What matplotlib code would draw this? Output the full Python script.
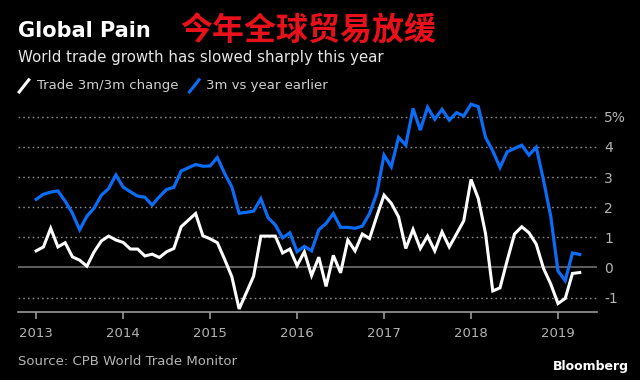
import matplotlib
matplotlib.use("Agg")
import matplotlib.pyplot as plt
from matplotlib.lines import Line2D
import numpy as np

# --- Data (monthly, Jan 2013 - Apr 2019) ---
start_year = 2013
trade_3m3m = [0.55, 0.68, 1.30, 0.68, 0.82, 0.35, 0.24, 0.04, 0.52, 0.88, 1.04, 0.91,
              0.83, 0.61, 0.61, 0.38, 0.44, 0.33, 0.52, 0.63, 1.35, 1.57, 1.79, 1.05,
              0.95, 0.82, 0.27, -0.31, -1.38, -0.84, -0.29, 1.04, 1.04, 1.04, 0.48, 0.61,
              0.06, 0.52, -0.27, 0.34, -0.63, 0.40, -0.18, 0.91, 0.55, 1.11, 0.96, 1.70,
              2.40, 2.13, 1.68, 0.63, 1.26, 0.63, 1.04, 0.55, 1.18, 0.68, 1.11, 1.55,
              2.92, 2.29, 1.13, -0.78, -0.68, 0.24, 1.11, 1.35, 1.15, 0.77, -0.03, -0.55,
              -1.20, -1.03, -0.20, -0.17]
yoy_3m = [2.26, 2.43, 2.50, 2.54, 2.20, 1.80, 1.25, 1.70, 1.97, 2.40, 2.62, 3.07,
          2.67, 2.51, 2.37, 2.33, 2.07, 2.35, 2.59, 2.66, 3.20, 3.31, 3.42, 3.36,
          3.37, 3.65, 3.12, 2.67, 1.80, 1.83, 1.87, 2.28, 1.65, 1.41, 0.98, 1.15,
          0.52, 0.70, 0.55, 1.25, 1.46, 1.79, 1.33, 1.33, 1.30, 1.37, 1.79, 2.46,
          3.73, 3.34, 4.32, 4.06, 5.28, 4.56, 5.32, 4.92, 5.25, 4.89, 5.14, 5.03,
          5.42, 5.34, 4.32, 3.87, 3.32, 3.84, 3.95, 4.06, 3.73, 3.99, 2.90, 1.70,
          -0.12, -0.44, 0.48, 0.43]
years = [2013, 2014, 2015, 2016, 2017, 2018, 2019]
y_ticks = [-1, 0, 1, 2, 3, 4, 5]
y_labels = ["-1", "0", "1", "2", "3", "4", "5%"]

x = start_year + np.arange(len(yoy_3m)) / 12.0

BG = "black"
GREY = "#b4b4b4"
BLUE = "#0b6cf5"
RED = "#e8101a"

fig = plt.figure(figsize=(6.4, 3.8), dpi=100, facecolor=BG)
ax = fig.add_axes([0.028, 0.179, 0.905, 0.561], facecolor=BG)

# grid lines
for v in y_ticks:
    if v == 0:
        ax.axhline(0, color="#777777", lw=1.1, zorder=1)
    else:
        ax.axhline(v, color="#8a8a8a", lw=1.0, linestyle=(0, (1.2, 2.2)), zorder=1)

ax.plot(x, trade_3m3m, color="white", lw=2.2, zorder=3, solid_joinstyle="miter")
ax.plot(x, yoy_3m, color=BLUE, lw=2.3, zorder=4, solid_joinstyle="miter")

ax.set_xlim(2012.79, 2019.45)
ax.set_ylim(-1.48, 5.6)

for s in ["top", "left", "right"]:
    ax.spines[s].set_visible(False)
ax.spines["bottom"].set_color("#999999")
ax.spines["bottom"].set_linewidth(1.2)

ax.set_xticks(years)
ax.set_xticklabels([str(y) for y in years])
ax.tick_params(axis="x", colors="#999999", length=5, width=1.2, labelcolor=GREY,
               labelsize=9.5, pad=6)

ax.yaxis.tick_right()
ax.set_yticks(y_ticks)
ax.set_yticklabels(y_labels)
ax.tick_params(axis="y", length=0, labelcolor=GREY, labelsize=10, pad=5)

# titles
fig.text(0.028, 0.918, "Global Pain", color="white", fontsize=15,
         fontweight="bold", va="center", ha="left")
fig.text(0.281, 0.92, "今年全球贸易放缓", color=RED, fontsize=23, fontweight="bold",
         family=["Noto Sans CJK SC", "DejaVu Sans"], va="center", ha="left")
fig.text(0.028, 0.848, "World trade growth has slowed sharply this year",
         color="#e6e6e6", fontsize=10.8, va="center", ha="left")

# legend
fig.add_artist(Line2D([0.030, 0.045], [0.758, 0.790], color="white", lw=2.2,
                      transform=fig.transFigure))
fig.text(0.058, 0.774, "Trade 3m/3m change", color="#d0d0d0", fontsize=9.5,
         va="center", ha="left")
fig.add_artist(Line2D([0.296, 0.311], [0.758, 0.790], color=BLUE, lw=2.2,
                      transform=fig.transFigure))
fig.text(0.322, 0.774, "3m vs year earlier", color="#d0d0d0", fontsize=9.5,
         va="center", ha="left")

# footer
fig.text(0.028, 0.048, "Source: CPB World Trade Monitor", color=GREY, fontsize=9.5,
         va="center", ha="left")
fig.text(0.982, 0.035, "Bloomberg", color="white", fontsize=9, fontweight="bold",
         va="center", ha="right")

plt.savefig("out.png", dpi=100, facecolor=BG)
plt.close()
